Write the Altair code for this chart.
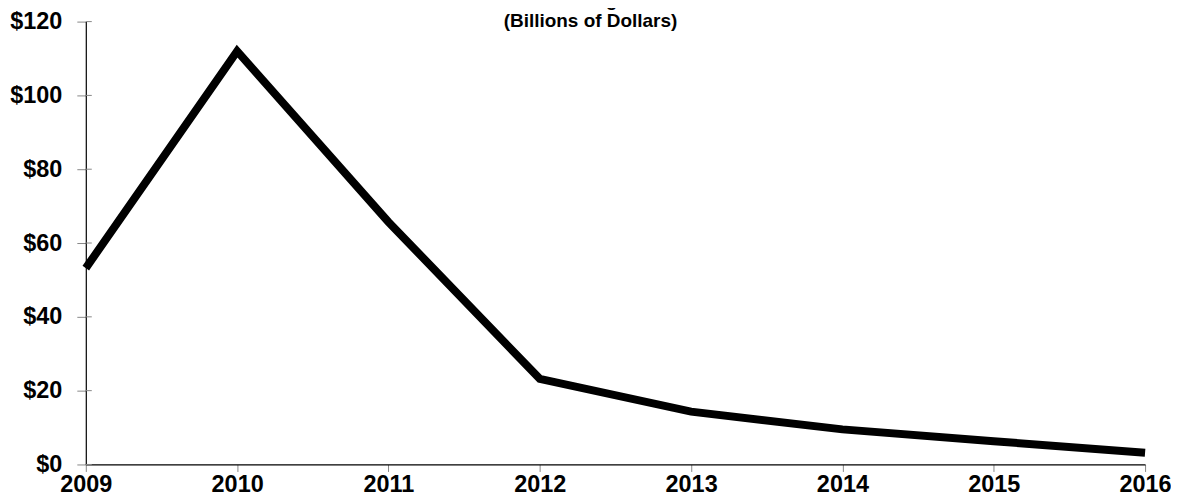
import altair as alt
import pandas as pd

years = [2009, 2010, 2011, 2012, 2013, 2014, 2015, 2016]
values = [53.2, 112.0, 65.7, 23.2, 14.3, 9.5, 6.3, 3.2]
y_ticks = [0, 20, 40, 60, 80, 100, 120]
title_lines = ["FY 2009 Through FY 2016", "(Billions of Dollars)"]

df = pd.DataFrame({"year": years, "value": values})
ticks_df = pd.DataFrame({"t": y_ticks})

x_scale = alt.Scale(domain=[2009, 2016], nice=False, zero=False)
y_scale = alt.Scale(domain=[0, 120], nice=False)

line = alt.Chart(df).mark_line(color="black", strokeWidth=8, strokeJoin="miter", strokeCap="butt").encode(
    x=alt.X("year:Q", scale=x_scale,
            axis=alt.Axis(values=years, format="d", title=None, labelFont="Liberation Sans",
                          labelFontSize=23.5, labelFontWeight="bold", labelColor="black",
                          labelPadding=1, tickSize=7, tickColor="#888888", domainColor="black",
                          domainWidth=1.2, grid=False, labelFlush=False)),
    y=alt.Y("value:Q", scale=y_scale,
            axis=alt.Axis(values=y_ticks, labelExpr="'$' + datum.value", title=None,
                          labelFont="Liberation Sans", labelFontSize=23.5, labelFontWeight="bold",
                          labelColor="black", labelPadding=15, tickSize=9, tickColor="#888888",
                          domainColor="black", domainWidth=1.2, grid=False)),
)

inner_ticks = alt.Chart(ticks_df).mark_rule(color="#888888", strokeWidth=1).encode(
    y=alt.Y("t:Q", scale=y_scale),
    x=alt.value(0),
    x2=alt.value(6),
)

chart = alt.layer(inner_ticks, line).properties(
    width=1062,
    height=444,
    padding={"left": 78, "top": 13, "right": 26, "bottom": 35},
    autosize=alt.AutoSizeParams(type="none"),
    title=alt.TitleParams(text=title_lines, font="Liberation Sans", fontSize=19, fontWeight="bold",
                          color="black", anchor="middle", lineHeight=21, offset=-21, dx=-25),
).configure_view(stroke=None)

chart.save("out.html", embed_options={"renderer": "svg", "actions": False})
